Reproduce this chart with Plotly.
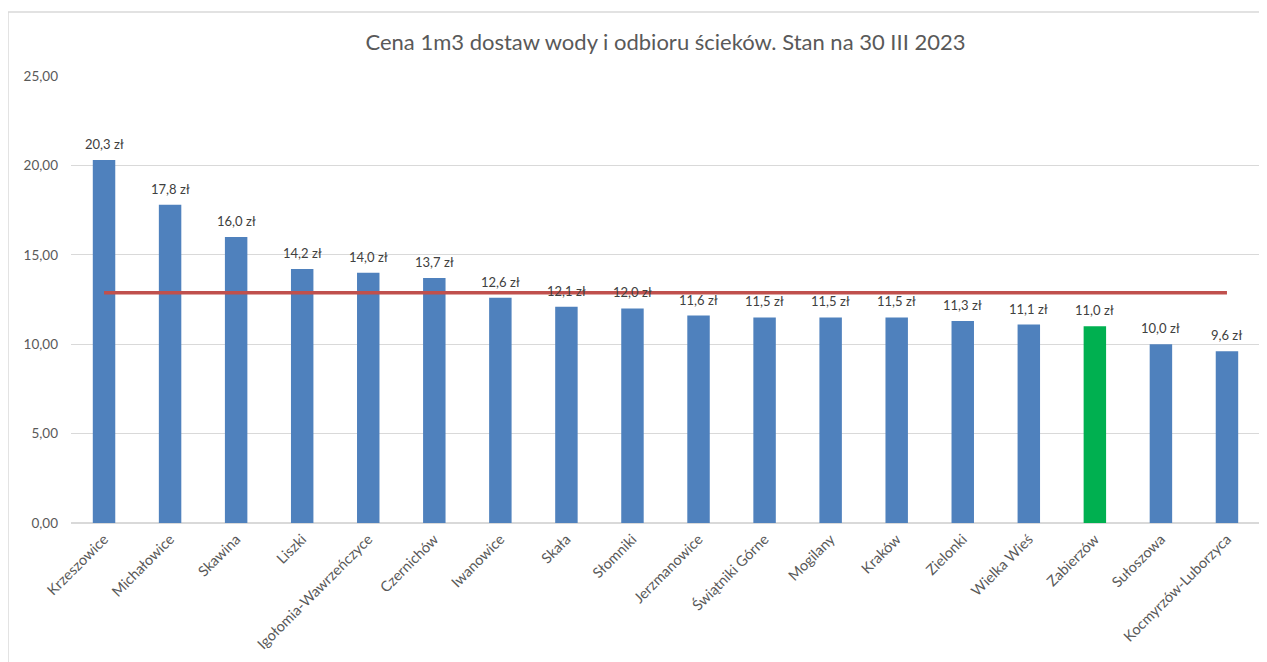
import plotly.graph_objects as go

categories = ["Krzeszowice", "Michałowice", "Skawina", "Liszki", "Igołomia-Wawrzeńczyce",
              "Czernichów", "Iwanowice", "Skała", "Słomniki", "Jerzmanowice",
              "Świątniki Górne", "Mogilany", "Kraków", "Zielonki", "Wielka Wieś",
              "Zabierzów", "Sułoszowa", "Kocmyrzów-Luborzyca"]
prices = [20.3, 17.8, 16.0, 14.2, 14.0, 13.7, 12.6, 12.1, 12.0, 11.6,
          11.5, 11.5, 11.5, 11.3, 11.1, 11.0, 10.0, 9.6]
average_price = 12.88
highlight = "Zabierzów"

bar_colors = ["#00b050" if c == highlight else "#4f81bd" for c in categories]

FONT = "Lato"
GREY = "#595959"

fig = go.Figure()
fig.add_trace(go.Bar(
    x=categories, y=prices,
    marker=dict(color=bar_colors, line=dict(width=0)),
    showlegend=False,
))
fig.add_trace(go.Scatter(
    x=[categories[0], categories[-1]], y=[average_price, average_price],
    mode="lines", line=dict(color="#c0504d", width=3.5),
    showlegend=False, hoverinfo="skip",
))

annotations = [
    dict(x=c, y=v, xref="x", yref="y", text=f"{v:.1f}".replace(".", ",") + " zł",
         showarrow=False, yanchor="bottom", yshift=6,
         font=dict(family=FONT, size=13, color="#404040"))
    for c, v in zip(categories, prices)
]

fig.update_layout(
    width=1259, height=654,
    margin=dict(l=63, r=7, t=68, b=139),
    paper_bgcolor="white", plot_bgcolor="white",
    separators=", ",
    bargap=0.66,
    font=dict(family=FONT, color=GREY),
    title=dict(text="Cena 1m3 dostaw wody i odbioru ścieków. Stan na 30 III 2023",
               x=0.5, xanchor="center", y=0.948, yanchor="middle",
               xref="paper",
               font=dict(family=FONT, size=22, color=GREY)),
    xaxis=dict(tickangle=-45, tickfont=dict(family=FONT, size=14.5, color=GREY),
               showgrid=False, showline=False, ticks="", ticklabelstandoff=4),
    yaxis=dict(range=[0, 25], dtick=5, tickformat=".2f",
               tickfont=dict(family=FONT, size=13.5, color=GREY),
               gridcolor="#d9d9d9", gridwidth=1, zeroline=True,
               zerolinecolor="#d9d9d9", zerolinewidth=1.5, showline=False,
               ticks="", ticklabelstandoff=12),
    annotations=annotations,
    shapes=[
        dict(type="line", xref="paper", yref="paper", x0=-0.053, x1=1.01,
             y0=1.143, y1=1.143, line=dict(color="#d9d9d9", width=1.5)),
        dict(type="line", xref="paper", yref="paper", x0=-0.053, x1=-0.053,
             y0=-0.32, y1=1.143, line=dict(color="#d9d9d9", width=1.5)),
    ],
)

fig.write_html("out.html")
